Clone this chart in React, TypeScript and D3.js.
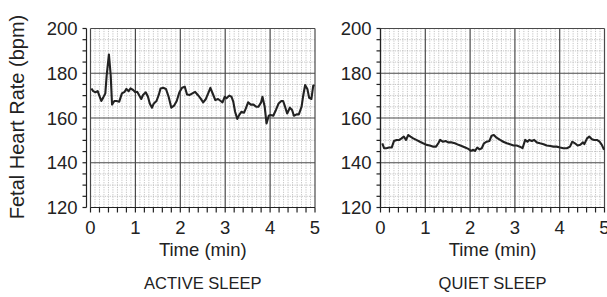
import * as d3 from "d3";
import React from "react";

// active sleep trace (min, bpm)
const activeTimes = [0.02, 0.06, 0.11, 0.16, 0.19, 0.24, 0.28, 0.33, 0.36, 0.41, 0.45, 0.48, 0.53, 0.58, 0.64, 0.7, 0.76, 0.8, 0.85, 0.89, 0.95, 1.0, 1.04, 1.08, 1.13, 1.17, 1.23, 1.28, 1.32, 1.37, 1.41, 1.47, 1.52, 1.56, 1.62, 1.68, 1.74, 1.8, 1.86, 1.92, 1.98, 2.04, 2.1, 2.15, 2.21, 2.27, 2.33, 2.39, 2.45, 2.51, 2.57, 2.63, 2.67, 2.73, 2.78, 2.84, 2.9, 2.94, 2.99, 3.03, 3.09, 3.14, 3.18, 3.22, 3.27, 3.31, 3.36, 3.42, 3.46, 3.51, 3.57, 3.63, 3.69, 3.74, 3.8, 3.83, 3.88, 3.92, 3.97, 4.01, 4.07, 4.13, 4.19, 4.25, 4.29, 4.34, 4.38, 4.44, 4.49, 4.53, 4.59, 4.64, 4.7, 4.74, 4.78, 4.83, 4.87, 4.92, 4.96, 4.99];
const activeBpm = [173.2, 172, 171.5, 172, 170.3, 167.6, 169, 171, 179, 188.4, 179, 166, 167.6, 167.6, 167.3, 171, 171.7, 173, 172, 173.2, 172.5, 171.5, 171.7, 170.3, 168.5, 170.3, 171.5, 169.5, 166.5, 164.6, 166.5, 167.6, 170.3, 173.2, 173.5, 173, 169.5, 164.6, 165.5, 167.6, 171.5, 173.5, 174, 170.5, 170.3, 171, 171.7, 170.3, 168.8, 167, 168.5, 171.5, 173.5, 170.5, 168, 168.5, 167.6, 167, 169.5, 168.8, 170, 169.5, 167.3, 162.8, 159.6, 161.3, 162.8, 162.4, 164.3, 167, 166, 166, 165, 165, 167, 169.5, 165, 157.6, 161, 161.3, 161, 163.6, 166.5, 167.6, 167.6, 164.6, 162, 164.6, 163.6, 161, 161.6, 161.6, 165, 170.3, 174.7, 173, 169, 168.5, 174.4, 174.7];

// quiet sleep trace (min, bpm)
const quietTimes = [0.04, 0.08, 0.13, 0.19, 0.25, 0.3, 0.36, 0.42, 0.47, 0.52, 0.57, 0.62, 0.67, 0.73, 0.8, 0.88, 0.95, 1.03, 1.1, 1.18, 1.24, 1.29, 1.33, 1.39, 1.46, 1.51, 1.59, 1.66, 1.74, 1.81, 1.89, 1.96, 2.02, 2.07, 2.11, 2.16, 2.21, 2.26, 2.31, 2.37, 2.43, 2.48, 2.53, 2.59, 2.67, 2.74, 2.82, 2.89, 2.97, 3.04, 3.11, 3.17, 3.23, 3.28, 3.32, 3.38, 3.43, 3.49, 3.56, 3.64, 3.71, 3.79, 3.86, 3.93, 4.01, 4.08, 4.16, 4.23, 4.28, 4.34, 4.4, 4.46, 4.52, 4.55, 4.61, 4.66, 4.72, 4.77, 4.83, 4.89, 4.94, 4.99];
const quietBpm = [148.7, 146.5, 146.5, 146.8, 146.8, 149.7, 150.2, 150.2, 150.9, 151.7, 150.2, 152.4, 151.7, 150.9, 150.2, 149.4, 148.7, 148, 147.7, 147.2, 147.2, 148.7, 150.2, 149.4, 149.7, 149.1, 149.1, 148.7, 148, 147.5, 146.8, 146.2, 145.3, 145.8, 145.3, 146.8, 146, 146.5, 148.7, 149.4, 149.7, 152.1, 152.4, 151.2, 150.2, 149.4, 148.7, 148.3, 147.7, 147.7, 147.2, 146.5, 150.2, 149.4, 150.2, 149.7, 150.2, 149.1, 148.7, 148.3, 147.7, 147.5, 147.2, 147.2, 146.8, 146.5, 146.5, 147.2, 149.4, 148.7, 147.7, 148, 149.1, 148.3, 150.9, 151.7, 150.5, 150.2, 150.2, 149.4, 148, 145.8];

const xTickLabels = [0, 1, 2, 3, 4, 5];
const yTickLabels = [120, 140, 160, 180, 200];
const panelTitles = ["ACTIVE SLEEP", "QUIET SLEEP"];

const W = 607;
const H = 297;
const TOP = 28.5;
const BOTTOM = 207.5;
const FONT = "'Liberation Sans', Arial, sans-serif";
const INK = "#222";

function Panel({ left, right, axisGap, times, bpm, title }) {
    const x = d3.scaleLinear().domain([0, 5]).range([left, right]);
    const y = d3.scaleLinear().domain([120, 200]).range([BOTTOM, TOP]);
    const line = d3
        .line<number>()
        .x((d, i) => x(times[i]))
        .y((d) => y(d));

    // dotted minor grid: every 0.1 min and every 5 bpm
    const minorX = d3.range(0, 50).map((i) => i / 10).filter((v) => v % 1 !== 0);
    const minorY = d3.range(120, 201, 5).filter((v) => v % 20 !== 0);
    const xTicks = d3.range(0, 26).map((i) => i / 5);
    const axisX = left - axisGap;
    const cx = (left + right) / 2;

    return (
        <g>
            {minorX.map((v) => (
                <line key={"mx" + v} x1={x(v)} x2={x(v)} y1={TOP} y2={BOTTOM}
                    stroke="#b5b5b5" strokeWidth={0.8} strokeDasharray="1.2,1.2" />
            ))}
            {minorY.map((v) => (
                <line key={"my" + v} x1={left} x2={right} y1={y(v)} y2={y(v)}
                    stroke="#b5b5b5" strokeWidth={0.8} strokeDasharray="1.2,1.2" />
            ))}
            {xTickLabels.map((v) => (
                <line key={"gx" + v} x1={x(v)} x2={x(v)} y1={TOP} y2={BOTTOM}
                    stroke="#4a4a4a" strokeWidth={1.2} />
            ))}
            {yTickLabels.map((v) => (
                <line key={"gy" + v} x1={left} x2={right} y1={y(v)} y2={y(v)}
                    stroke="#4a4a4a" strokeWidth={1.2} />
            ))}

            {/* y axis */}
            <line x1={axisX} x2={axisX} y1={TOP} y2={BOTTOM} stroke={INK} strokeWidth={1.2} />
            {minorY.concat(yTickLabels).map((v) => (
                <line key={"ty" + v} x1={axisX - 4} x2={axisX} y1={y(v)} y2={y(v)}
                    stroke={INK} strokeWidth={1.2} />
            ))}
            {yTickLabels.map((v) => (
                <text key={"ly" + v} x={axisX - 9} y={y(v)} dy="0.36em" textAnchor="end"
                    fontSize={18.5} fill={INK}>{v}</text>
            ))}

            {/* x axis */}
            <line x1={left} x2={right} y1={BOTTOM} y2={BOTTOM} stroke={INK} strokeWidth={1.2} />
            {xTicks.map((v) => (
                <line key={"tx" + v} x1={x(v)} x2={x(v)} y1={BOTTOM} y2={BOTTOM + 5}
                    stroke={INK} strokeWidth={1.2} />
            ))}
            {xTickLabels.map((v) => (
                <text key={"lx" + v} x={x(v)} y={234} textAnchor="middle"
                    fontSize={18.5} fill={INK}>{v}</text>
            ))}

            <path d={line(bpm) || ""} fill="none" stroke={INK} strokeWidth={2.1}
                strokeLinejoin="round" />

            <text x={cx} y={256} textAnchor="middle" fontSize={18.5} fill={INK}>Time (min)</text>
            <text x={cx} y={289} textAnchor="middle" fontSize={16.5} fill={INK}>{title}</text>
        </g>
    );
}

export default function App() {
    return (
        <svg width={W} height={H} style={{ position: "absolute", left: 0, top: 0, background: "#fff" }}
            fontFamily={FONT}>
            <text transform="translate(24,117) rotate(-90)" textAnchor="middle" fontSize={20}
                fill={INK}>Fetal Heart Rate (bpm)</text>
            <Panel left={90.5} right={315} axisGap={4} times={activeTimes} bpm={activeBpm}
                title={panelTitles[0]} />
            <Panel left={380.5} right={604.5} axisGap={0} times={quietTimes} bpm={quietBpm}
                title={panelTitles[1]} />
        </svg>
    );
}
